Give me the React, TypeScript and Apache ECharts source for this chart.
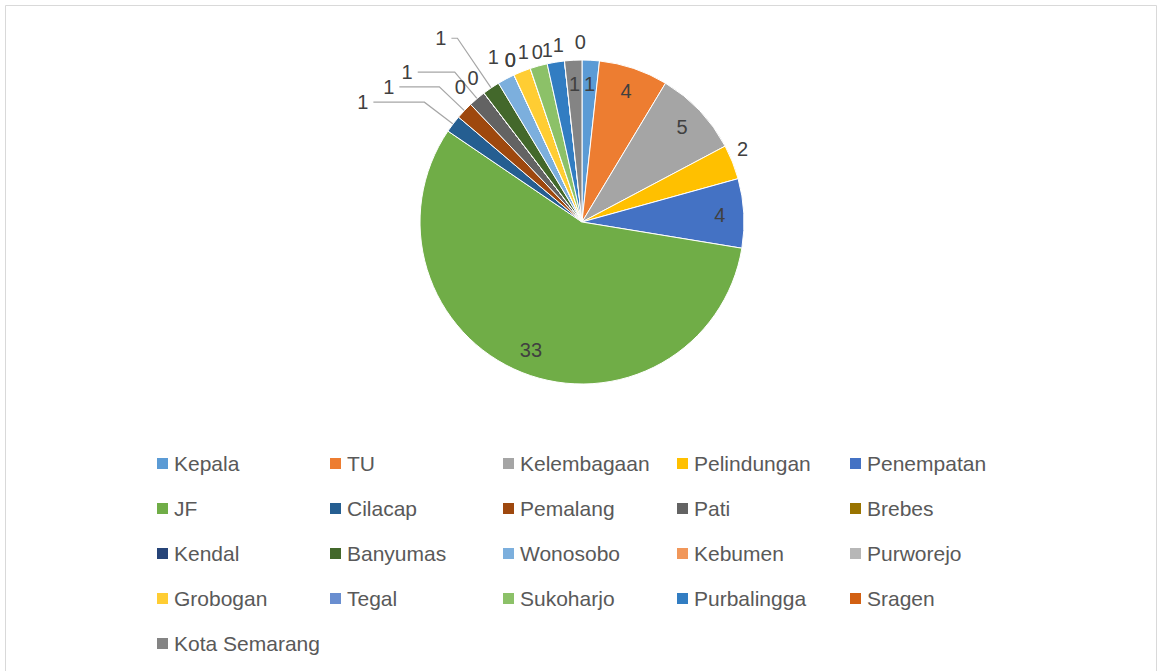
import React, { useEffect, useRef } from "react";
import * as echarts from "echarts";

const categories = [
  "Kepala", "TU", "Kelembagaan", "Pelindungan", "Penempatan",
  "JF", "Cilacap", "Pemalang", "Pati", "Brebes",
  "Kendal", "Banyumas", "Wonosobo", "Kebumen", "Purworejo",
  "Grobogan", "Tegal", "Sukoharjo", "Purbalingga", "Sragen",
  "Kota Semarang",
];
const values = [1, 4, 5, 2, 4, 33, 1, 1, 1, 0, 0, 1, 1, 0, 0, 1, 0, 1, 1, 0, 1];
const colors = [
  "#5B9BD5", "#ED7D31", "#A5A5A5", "#FFC000", "#4472C4",
  "#70AD47", "#255E91", "#9E480E", "#636363", "#997300",
  "#264478", "#43682B", "#7CAFDD", "#F1975A", "#B7B7B7",
  "#FFCD33", "#698ED0", "#8CC168", "#327DC2", "#D26012",
  "#848484",
];
// labels drawn inside the slice (Excel "best fit")
const insideLabels = ["Kepala", "TU", "Kelembagaan", "Penempatan", "JF", "Kota Semarang"];

// outside-label guide styling: [leader length, horizontal length, show leader line]
const guideStyle: Record<string, [number, number, boolean]> = {
  Pelindungan: [35, -33, false],
  Cilacap: [36, 51, true],
  Pemalang: [34.5, 40, true],
  Pati: [34.6, 37, true],
  Brebes: [18.7, -11, false],
  Kendal: [7.4, 8.5, false],
  Banyumas: [60, 6, true],
  Wonosobo: [24.6, -9.3, false],
  Kebumen: [16.4, -13.8, false],
  Purworejo: [16.4, -13.8, false],
  Grobogan: [21, -19.7, false],
  Tegal: [17.3, -23.2, false],
  Sukoharjo: [16.4, -23.6, false],
  Purbalingga: [17.3, -16, false],
  Sragen: [19, -28.5, false],
};

const FONT = "'Liberation Sans', Arial, sans-serif";

export default function App() {
  const ref = useRef<HTMLDivElement>(null);
  useEffect(() => {
    const chart = echarts.init(ref.current!, null, { renderer: "svg" });
    const slices = categories.map((name, i) => {
      const g = guideStyle[name];
      return {
        name,
        value: values[i],
        itemStyle: { color: colors[i] },
        label: { show: !insideLabels.includes(name) },
        labelLine: g
          ? { show: g[2], length: g[0], length2: g[1] }
          : { show: false },
      };
    });
    const ring = categories.map((name, i) => ({
      name,
      value: values[i],
      label: { show: insideLabels.includes(name) },
    }));
    const columns = [0, 1, 2, 3, 4].map((c) => categories.filter((_, i) => i % 5 === c));
    const lefts = [150, 323, 496, 670, 843];
    chart.setOption({
      animation: false,
      backgroundColor: "#ffffff",
      textStyle: { fontFamily: FONT },
      legend: columns.map((col, c) => ({
        orient: "vertical",
        left: lefts[c],
        top: 448,
        data: col,
        icon: "rect",
        itemWidth: 13,
        itemHeight: 13,
        itemGap: 24,
        selectedMode: false,
        textStyle: { fontSize: 21, color: "#595959", fontFamily: FONT, lineHeight: 21 },
      })),
      graphic: [
        {
          type: "rect",
          shape: { x: 5.5, y: 5.5, width: 1151, height: 700 },
          style: { fill: "none", stroke: "#d9d9d9", lineWidth: 1 },
          silent: true,
        },
      ],
      series: [
        {
          type: "pie",
          center: [582, 222],
          radius: 162,
          startAngle: 90,
          clockwise: true,
          avoidLabelOverlap: false,
          labelLayout: { hideOverlap: false, moveOverlap: null },
          itemStyle: { borderColor: "#ffffff", borderWidth: 1 },
          label: {
            position: "outside",
            formatter: "{c}",
            fontSize: 20,
            color: "#404040",
            fontFamily: FONT,
          },
          labelLine: {
            lineStyle: { color: "#a6a6a6", width: 1.2 },
          },
          emphasis: { disabled: true },
          data: slices,
        },
        {
          type: "pie",
          center: [582, 222],
          radius: [108, 162],
          startAngle: 90,
          clockwise: true,
          silent: true,
          labelLayout: { hideOverlap: false },
          itemStyle: { color: "rgba(0,0,0,0)" },
          label: {
            position: "inside",
            formatter: "{c}",
            fontSize: 20,
            color: "#404040",
            fontFamily: FONT,
          },
          labelLine: { show: false },
          emphasis: { disabled: true },
          data: ring,
        },
      ],
    });
    return () => chart.dispose();
  }, []);
  return (
    <div
      ref={ref}
      style={{ position: "fixed", left: 0, top: 0, width: 1158, height: 671 }}
    />
  );
}
